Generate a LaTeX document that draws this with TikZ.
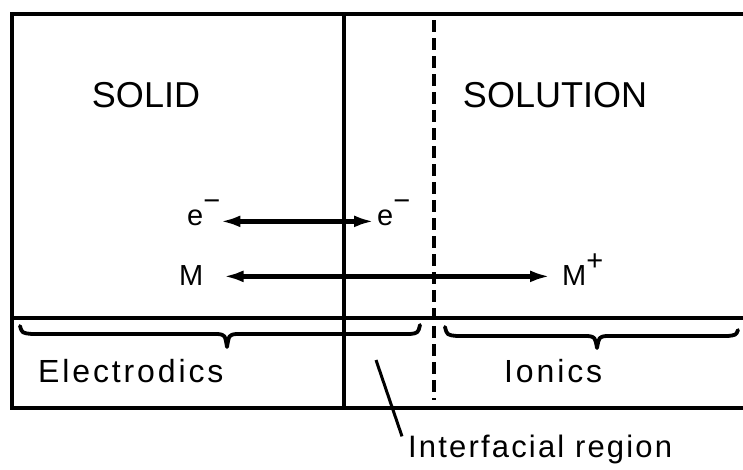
\documentclass[tikz,border=0pt]{standalone}
\usepackage{fontspec}
\setmainfont{Liberation Sans}
\newfontfamily\spacedfont[LetterSpace=9]{Liberation Sans}
\newfontfamily\spacedfontb[LetterSpace=7]{Liberation Sans}
\usetikzlibrary{arrows.meta}
\begin{document}
\begin{tikzpicture}[x=1pt,y=-1pt,
  frame/.style={line width=4.6pt},
  solidline/.style={line width=4pt},
  dashline/.style={line width=4.2pt,dash pattern=on 12pt off 6pt},
  dbl/.style={line width=5pt,{Latex[length=20pt,width=12pt]}-{Latex[length=20pt,width=12pt]}},
  big/.style={font=\fontsize{36}{40}\selectfont, inner sep=0pt, anchor=base},
  small/.style={font=\fontsize{29}{32}\selectfont, inner sep=0pt, anchor=base west},
  lab/.style={font=\spacedfont\fontsize{32}{34}\selectfont, inner sep=0pt, anchor=base west},
  labb/.style={font=\spacedfontb\fontsize{31}{34}\selectfont, inner sep=0pt, anchor=base west},
  bracepath/.style={line width=3.8pt, line join=round, line cap=round},
  leader/.style={line width=3pt}
]
\useasboundingbox (0,0) rectangle (743,469);
\fill[white] (0,0) rectangle (743,469);

% frame
\draw[frame] (750,14) -- (12,14) -- (12,408) -- (750,408);
\draw[frame] (12,318) -- (750,318);
\draw[solidline] (344,14) -- (344,408);
\draw[dashline] (434,20) -- (434,400);

% braces
\draw[bracepath] (20,326) .. controls (22,333) .. (32,334) -- (218,334)
  .. controls (225,335) .. (227,347) .. controls (229,335) .. (236,334)
  -- (410,334) .. controls (418,333) .. (420,325);
\draw[bracepath] (445,327) .. controls (447,335) .. (457,336) -- (588,336)
  .. controls (595,337) .. (597,348) .. controls (599,337) .. (606,336)
  -- (728,336) .. controls (736,335) .. (738,330);

% labels
\node[big] (solid) at (146,107) {SOLID};
\node[big] (solution) at (555,107) {SOLUTION};
\node[small] (eL) at (187,225) {e\raisebox{15pt}{−}};
\node[small] (eR) at (377,225) {e\raisebox{15pt}{−}};
\node[small] (mL) at (179,285) {M};
\node[small] (mR) at (562,285) {M\raisebox{15pt}{+}};
\node[lab] (electrodics) at (38,382) {Electrodics};
\node[lab] (ionics) at (504,382) {Ionics};
\node[labb] (ir) at (408,457) {Interfacial region};

% arrows
\draw[dbl] ([xshift=0pt,yshift=1pt]eL.mid east) -- ([xshift=-3pt,yshift=1pt]eR.mid west);
\draw[dbl] ([xshift=20pt,yshift=6pt]mL.mid east) -- ([xshift=-12pt,yshift=6pt]mR.mid west);

% leader
\coordinate (lstart) at (376,360);
\draw[leader] (lstart) -- ([xshift=-6pt,yshift=-2pt]ir.north west);
\end{tikzpicture}
\end{document}
